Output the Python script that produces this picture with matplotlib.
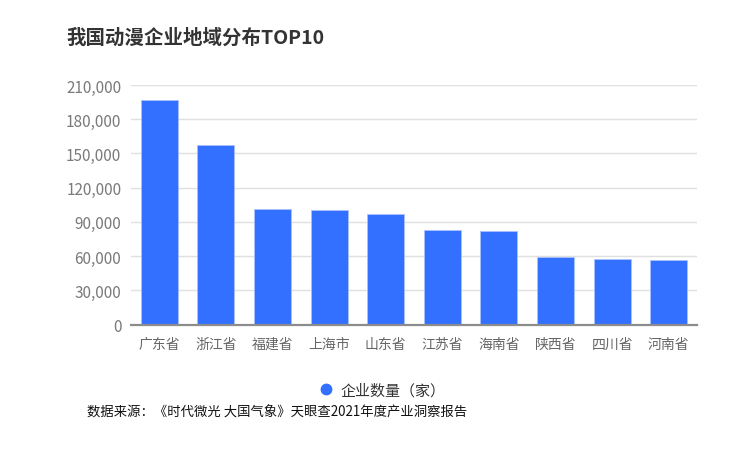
import matplotlib
matplotlib.use('Agg')
import matplotlib.pyplot as plt
from matplotlib.ticker import FuncFormatter, MultipleLocator
from matplotlib.lines import Line2D
import numpy as np

plt.rcParams['font.family'] = ['Noto Sans CJK SC', 'DejaVu Sans']

# 数据
provinces = ['广东省', '浙江省', '福建省', '上海市', '山东省', '江苏省', '海南省', '陕西省', '四川省', '河南省']
counts = [196500, 157800, 101000, 100100, 97000, 83200, 81800, 59300, 57800, 56300]
series_name = '企业数量（家）'
title = '我国动漫企业地域分布TOP10'
source = '数据来源：《时代微光 大国气象》天眼查2021年度产业洞察报告'

bar_color = '#3370ff'

fig = plt.figure(figsize=(7.33, 4.52), dpi=100)
ax = fig.add_axes([131 / 733, 1 - 325.5 / 452, (697 - 131) / 733, (325.5 - 86) / 452])

x = np.arange(len(provinces))
ax.bar(x, counts, width=0.655, color=bar_color, edgecolor='#a8c1ff', linewidth=0.6, zorder=3)

ax.set_xlim(-0.5, len(provinces) - 0.5)
ax.set_ylim(0, 210000)
ax.yaxis.set_major_locator(MultipleLocator(30000))
ax.yaxis.set_major_formatter(FuncFormatter(lambda v, p: f'{int(v):,}'))
ax.set_xticks(x)
ax.set_xticklabels(provinces)

ax.grid(axis='y', color='#e0e0e0', linewidth=1.0, zorder=0)
for s in ['top', 'right', 'left']:
    ax.spines[s].set_visible(False)
ax.spines['bottom'].set_color('#8c8c8c')
ax.spines['bottom'].set_linewidth(1.6)
ax.spines['bottom'].set_zorder(4)

ax.tick_params(axis='y', length=0, pad=7, labelsize=11, labelcolor='#7a7a7a')
ax.tick_params(axis='x', length=0, pad=9, labelsize=10, labelcolor='#666666')

# 标题
fig.text(66 / 733, 1 - 38 / 452, title, fontsize=14, fontweight='bold', color='#333333', va='center', ha='left')

# 图例
handle = Line2D([], [], marker='o', linestyle='none', markersize=7.5, markerfacecolor=bar_color,
                markeredgecolor=bar_color)
fig.legend([handle], [series_name], loc='center', bbox_to_anchor=(378 / 733, 1 - 391 / 452),
           frameon=False, fontsize=10.8, handletextpad=0.0, labelcolor='#333333')

# 数据来源
fig.text(87 / 733, 1 - 413 / 452, source, fontsize=9.6, color='#111111', va='center', ha='left')

plt.savefig('out.png', dpi=100)
